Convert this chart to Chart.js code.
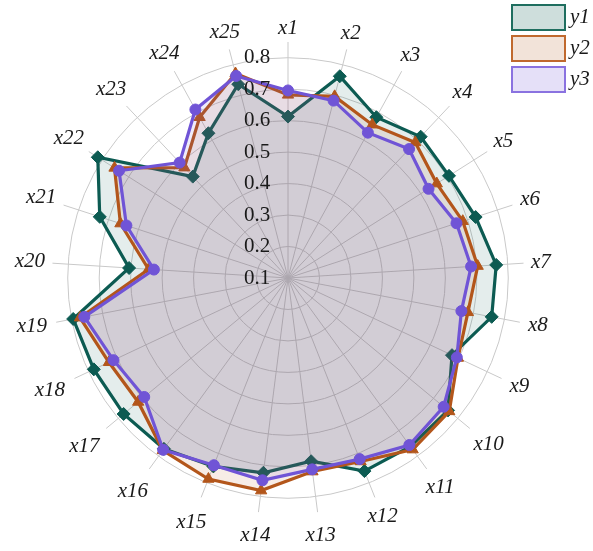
<!DOCTYPE html>
<html>
<head>
<meta charset="utf-8">
<script src="https://cdn.jsdelivr.net/npm/chart.js@4.4.1/dist/chart.umd.min.js"></script>
<style>
  html, body { margin: 0; padding: 0; background: #ffffff; }
  #wrap { width: 593px; height: 551px; position: relative; }
</style>
</head>
<body>
<div id="wrap"><canvas id="radar"></canvas></div>
<script>
// Categories around the radar, clockwise from the top
const categories = ['x1', 'x2', 'x3', 'x4', 'x5', 'x6', 'x7', 'x8', 'x9', 'x10',
  'x11', 'x12', 'x13', 'x14', 'x15', 'x16', 'x17', 'x18', 'x19', 'x20',
  'x21', 'x22', 'x23', 'x24', 'x25'];

// Series values
const y1 = [0.613, 0.762, 0.683, 0.716, 0.706, 0.727, 0.763, 0.759, 0.676, 0.760,
  0.762, 0.760, 0.687, 0.724, 0.744, 0.771, 0.778, 0.782, 0.795, 0.606,
  0.729, 0.816, 0.542, 0.625, 0.736];
const y2 = [0.682, 0.696, 0.656, 0.691, 0.660, 0.684, 0.704, 0.682, 0.697, 0.765,
  0.774, 0.727, 0.720, 0.781, 0.787, 0.777, 0.718, 0.729, 0.773, 0.544,
  0.660, 0.753, 0.581, 0.683, 0.771];
const y3 = [0.696, 0.682, 0.627, 0.662, 0.629, 0.663, 0.683, 0.661, 0.693, 0.742,
  0.756, 0.719, 0.713, 0.748, 0.740, 0.775, 0.693, 0.713, 0.759, 0.527,
  0.640, 0.736, 0.603, 0.711, 0.763];

// Radial tick labels
const radialTicks = [0.1, 0.2, 0.3, 0.4, 0.5, 0.6, 0.7, 0.8];
const seriesNames = ['y1', 'y2', 'y3'];

const R_MIN = 0.1;
const R_MAX = 0.85;

const lineColors = ['#0c5b52', '#b3561b', '#7054d6'];
const fillColors = ['rgba(12,91,82,0.11)', 'rgba(179,86,27,0.11)', 'rgba(112,84,214,0.11)'];
const legendFill = ['rgba(12,91,82,0.2)', 'rgba(179,86,27,0.17)', 'rgba(112,84,214,0.18)'];
const legendEdge = ['#1f6e5f', '#c0692e', '#8a72e0'];
const markerStyles = ['rectRot', 'triangle', 'circle'];
const markerSizes = [6.5, 6.5, 5.5];
const SERIF = '"Liberation Serif", "Times New Roman", serif';

// Text layer: radial tick labels, category labels and the legend
const textLayer = {
  id: 'textLayer',
  afterDatasetsDraw(chart) {
    const s = chart.scales.r;
    const ctx = chart.ctx;
    ctx.save();
    ctx.fillStyle = '#1a1a1a';
    ctx.textAlign = 'center';
    ctx.textBaseline = 'middle';

    ctx.font = '21px ' + SERIF;
    radialTicks.forEach(v => {
      const d = s.getDistanceFromCenterForValue(v);
      ctx.fillText(v.toFixed(1), s.xCenter - 31, s.yCenter - d);
    });

    ctx.font = 'italic 21px ' + SERIF;
    const outer = s.getDistanceFromCenterForValue(R_MAX);
    categories.forEach((c, i) => {
      const w = ctx.measureText(c).width;
      const h = 14;
      const a = s.getIndexAngle(i);
      const sn = Math.sin(a), cs = Math.cos(a);
      const lower = Math.max(0, -cs) * (sn > 0.2 ? 2 : 8);
      const reach = outer + 7 + Math.abs(sn) * w / 2 + Math.abs(cs) * h / 2 + lower;
      const p = s.getPointPosition(i, reach);
      ctx.fillText(c, p.x, p.y);
    });

    // legend
    const bx = 512, bw = 53, bh = 25;
    ctx.font = 'italic 21px ' + SERIF;
    seriesNames.forEach((name, i) => {
      const by = 5 + i * 31;
      ctx.fillStyle = '#ffffff';
      ctx.fillRect(bx, by, bw, bh);
      ctx.fillStyle = legendFill[i];
      ctx.fillRect(bx, by, bw, bh);
      ctx.strokeStyle = legendEdge[i];
      ctx.lineWidth = 2;
      ctx.strokeRect(bx, by, bw, bh);
      ctx.fillStyle = '#1a1a1a';
      ctx.textAlign = 'left';
      ctx.fillText(name, bx + bw + 5, by + bh / 2);
    });
    ctx.restore();
  }
};

const seriesData = [y1, y2, y3];
const datasets = seriesData.map((vals, i) => ({
  label: seriesNames[i],
  data: vals,
  borderColor: lineColors[i],
  backgroundColor: fillColors[i],
  borderWidth: 3.2,
  fill: true,
  pointStyle: markerStyles[i],
  pointRadius: markerSizes[i],
  pointBackgroundColor: lineColors[i],
  pointBorderColor: lineColors[i],
  pointBorderWidth: 1,
  order: 3 - i
}));

new Chart(document.getElementById('radar'), {
  type: 'radar',
  data: { labels: categories, datasets },
  options: {
    responsive: true,
    maintainAspectRatio: false,
    animation: false,
    layout: { padding: { left: 52, right: 69, top: 42, bottom: 37 } },
    plugins: { legend: { display: false }, tooltip: { enabled: false } },
    elements: { line: { tension: 0 } },
    scales: {
      r: {
        min: R_MIN,
        max: R_MAX,
        ticks: { display: false, stepSize: 0.1 },
        pointLabels: { display: false },
        grid: {
          circular: true,
          lineWidth: 1,
          color: (c) => (c.tick && c.tick.value > 0.801) ? 'rgba(0,0,0,0)' : '#c9c9c9'
        },
        angleLines: { color: '#c9c9c9', lineWidth: 1 },
        afterFit: (scale) => {
          const a = scale.chart.chartArea;
          if (!a) return;
          scale.xCenter = Math.round((a.left + a.right) / 2);
          scale.yCenter = Math.round((a.top + a.bottom) / 2);
          scale.drawingArea = Math.min(a.right - a.left, a.bottom - a.top) / 2;
        }
      }
    }
  },
  plugins: [textLayer]
});
</script>
</body>
</html>
